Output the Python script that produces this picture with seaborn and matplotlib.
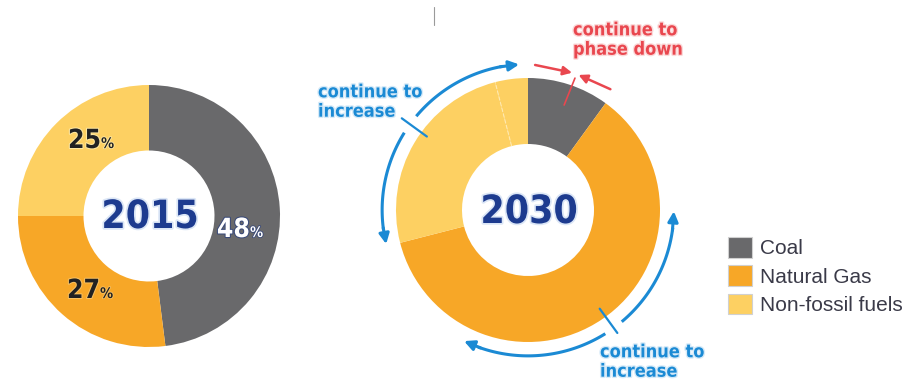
import os
import numpy as np
import matplotlib
matplotlib.use('Agg')
import matplotlib.pyplot as plt
import seaborn as sns
from matplotlib import font_manager as fm
import matplotlib.patheffects as pe
from matplotlib.patches import Patch

# ---------------- data ----------------
categories = ["Coal", "Natural Gas", "Non-fossil fuels"]
share_2015 = [48, 27, 25]
share_2030 = [10, 61, 25, 4]          # last slice: added non-fossil share
year_labels = ["2015", "2030"]
note_increase = "continue to\nincrease"
note_phase = "continue to\nphase down"

# ---------------- style ----------------
sns.set_theme(style="white")
plt.rcParams['font.family'] = ['Liberation Sans', 'DejaVu Sans']

files = [f.fname for f in fm.fontManager.ttflist]


def find_font(options):
    for keys in options:
        for fn in files:
            b = os.path.basename(fn).lower()
            if b.split('.')[0] == keys:
                return fm.FontProperties(fname=fn)
    for keys in options:
        for fn in files:
            b = os.path.basename(fn).lower()
            if keys in b and 'italic' not in b:
                return fm.FontProperties(fname=fn)
    return fm.FontProperties(family='DejaVu Sans', weight='bold', stretch='condensed')


year_fp = find_font(['notosans-extracondensedbold', 'notosans-extracondensedsemibold',
                     'notosans-condensedbold', 'dejavusanscondensed-bold',
                     'liberationsansnarrow-bold'])
note_fp = find_font(['notosans-semicondensedbold', 'notosans-condensedbold',
                     'dejavusanscondensed-bold', 'liberationsansnarrow-bold'])

coal_c, gas_c, nonf_c = "#69696b", "#F7A727", "#FDD062"
palette = sns.color_palette([coal_c, gas_c, nonf_c])
blue, red = "#1b8ad4", "#e9474f"

W, H = 910, 383
fig = plt.figure(figsize=(W / 100, H / 100), dpi=100)
ax = fig.add_axes([0, 0, 1, 1])


def Y(y):
    return H - y


c1, R1 = (149, Y(216)), 131
c2, R2 = (528, Y(210)), 132


def pt(c, r, th):
    t = np.radians(th)
    return (c[0] + r * np.sin(t), c[1] + r * np.cos(t))


ax.pie(share_2015, colors=palette, startangle=90, counterclock=False,
       radius=R1, center=c1, wedgeprops=dict(width=R1 * 0.5, linewidth=0))
ax.pie(share_2030, colors=[palette[0], palette[1], palette[2], palette[2]],
       startangle=90, counterclock=False, radius=R2, center=c2,
       wedgeprops=dict(width=R2 * 0.5, linewidth=0))
ax.set_xlim(0, W)
ax.set_ylim(0, H)
ax.set_aspect('equal')
ax.axis('off')

# faint divider inside the non-fossil 2030 slice
th_div = 360 * sum(share_2030[:3]) / 100
p_in, p_out = pt(c2, R2 * 0.5, th_div), pt(c2, R2, th_div)
ax.plot([p_in[0], p_out[0]], [p_in[1], p_out[1]], color="#ffe9b0", lw=0.8, ls='--')

# year labels
for txt, c, dy in zip(year_labels, [c1, c2], [-1, -2]):
    ax.text(c[0] + 1, c[1] + dy, txt, ha='center', va='center', fontproperties=year_fp,
            fontsize=28, color="#1d3b8f",
            path_effects=[pe.withStroke(linewidth=2.5, foreground="#dbe6f6")])

# percentage labels 2015 (x at end of digits, baseline y)
lab_pos = [(250, 237), (100, 298), (101, 148)]
lab_col = ["white", "#222222", "#222222"]
lab_stroke = ["#3a4a78", "#f7c060", "#ffe8a0"]
for v, (x, y), col, sc in zip(share_2015, lab_pos, lab_col, lab_stroke):
    ax.text(x, Y(y), f"{v}", ha='right', va='baseline', fontproperties=year_fp,
            fontsize=19, color=col,
            path_effects=[pe.withStroke(linewidth=1.5, foreground=sc)])
    ax.text(x, Y(y), "%", ha='left', va='baseline', fontproperties=year_fp,
            fontsize=10.5, color=col,
            path_effects=[pe.withStroke(linewidth=1.2, foreground=sc)])


# ---------------- annotation arcs ----------------
def arc(c, r, t0, t1, **kw):
    t = np.radians(np.linspace(t0, t1, 120))
    ax.plot(c[0] + r * np.sin(t), c[1] + r * np.cos(t), solid_capstyle='butt', **kw)


def head(c, r, t_from, t_to, color, ms=15, lw=2.2):
    ax.annotate('', xy=pt(c, r, t_to), xytext=pt(c, r, t_from),
                arrowprops=dict(arrowstyle='-|>', color=color, lw=lw,
                                mutation_scale=ms, shrinkA=0, shrinkB=0))


ra = R2 * 1.105
# upper-left double arrow
arc(c2, ra, 262, 302, color=blue, lw=2.2)
arc(c2, ra, 310, 350, color=blue, lw=2.2)
head(c2, ra, 263, 256.5, blue)
head(c2, ra, 349, 356.5, blue)
# lower-right double arrow
arc(c2, ra, 97, 140, color=blue, lw=2.2)
arc(c2, ra, 148, 200, color=blue, lw=2.2)
head(c2, ra, 98, 90.5, blue)
head(c2, ra, 199, 206, blue)

# leader lines
for th, r0, r1 in [(306, 125, 156), (144, 122, 152)]:
    a, b = pt(c2, r0, th), pt(c2, r1, th)
    ax.plot([a[0], b[0]], [a[1], b[1]], color=blue, lw=1.6)

# red phase-down arrows
rr = R2 * 1.1
ax.annotate('', xy=pt(c2, rr - 1, 17.8), xytext=pt(c2, rr, 2.8),
            arrowprops=dict(arrowstyle='-|>', color=red, lw=1.8,
                            mutation_scale=13, shrinkA=0, shrinkB=0))
ax.annotate('', xy=pt(c2, rr - 1, 20.5), xytext=pt(c2, rr + 1, 34.3),
            arrowprops=dict(arrowstyle='-|>', color=red, lw=1.8,
                            mutation_scale=13, shrinkA=0, shrinkB=0))
a, b = pt(c2, 111, 19), pt(c2, 140, 19.6)
ax.plot([a[0], b[0]], [a[1], b[1]], color=red, lw=1.2)

# tiny grey tick at top
ax.plot([434, 434], [Y(7), Y(25)], color="#9a9a9a", lw=0.8)

# notes
note_kw = dict(ha='left', va='center', fontproperties=note_fp, fontsize=13,
               linespacing=1.1)
ax.text(318, Y(102), note_increase, color=blue,
        path_effects=[pe.withStroke(linewidth=2, foreground="#d6eaf8")], **note_kw)
ax.text(600, Y(362), note_increase, color=blue,
        path_effects=[pe.withStroke(linewidth=2, foreground="#d6eaf8")], **note_kw)
ax.text(573, Y(40), note_phase, color=red,
        path_effects=[pe.withStroke(linewidth=2, foreground="#fbdada")], **note_kw)

# legend
handles = [Patch(facecolor=col, edgecolor="#d0d0d0", linewidth=0.8) for col in palette]
leg = ax.legend(handles, categories, loc='upper left',
                bbox_to_anchor=(728 / W, 1 - 237 / H), bbox_transform=fig.transFigure,
                frameon=False, fontsize=15, handlelength=1.15, handleheight=1.15,
                handletextpad=0.4, labelspacing=0.33, borderpad=0, borderaxespad=0)
for t in leg.get_texts():
    t.set_color("#3a3a48")

fig.savefig("out.png", dpi=100)
